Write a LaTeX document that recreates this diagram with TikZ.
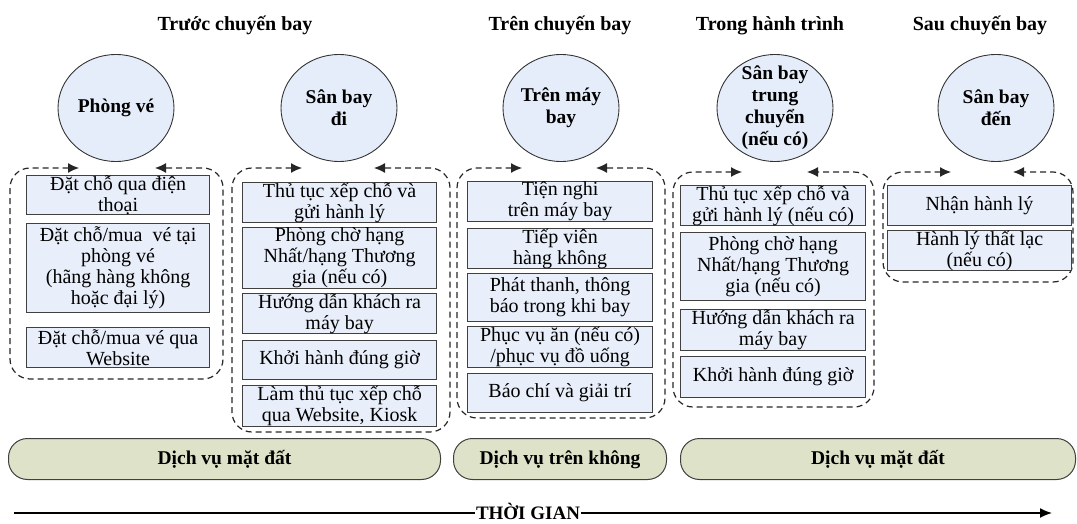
\documentclass[tikz,border=0pt]{standalone}
\usepackage{fontspec}
\setmainfont{Liberation Serif}
\usetikzlibrary{shapes.geometric,arrows.meta}
\definecolor{boxblue}{RGB}{233,239,250}
\definecolor{circblue}{RGB}{230,237,250}
\definecolor{pillgreen}{RGB}{222,226,200}
\tikzset{
  stage/.style={anchor=base, font=\bfseries\fontsize{20}{22}\selectfont},
  place/.style={ellipse, draw=black!80, line width=0.9pt, fill=circblue,
    minimum width=116pt, minimum height=107pt, inner sep=-12pt, align=center,
    font=\bfseries\fontsize{19.5}{22}\selectfont},
  sbox/.style 2 args={draw=black!75, line width=1.2pt, fill=boxblue,
    minimum width=#1, minimum height=#2, inner sep=0pt, anchor=north west,
    align=center, font=\fontsize{20}{21}\selectfont},
  grouprim/.style={draw=black!85, line width=1.2pt, dash pattern=on 6pt off 4pt,
    rounded corners=20pt, {Latex[length=11pt,width=10pt]}-{Latex[length=11pt,width=10pt]}},
  pill/.style={draw=black!75, line width=1pt, fill=pillgreen, rounded corners=19pt,
    minimum height=41pt, inner sep=0pt, text height=14pt, text depth=4pt, anchor=north west,
    font=\bfseries\fontsize{19.5}{21}\selectfont},
}
\begin{document}
\begin{tikzpicture}[x=1pt, y=-1pt]
    \useasboundingbox (0,0) rectangle (1077,524);

    \def\ytitle{31}
    \def\yplace{108}

    \node[stage] (before) at (235,\ytitle) {Trước chuyến bay};
    \node[stage] (during) at (560,\ytitle) {Trên chuyến bay};
    \node[stage] (transit) at (770,\ytitle) {Trong hành trình};
    \node[stage] (after) at (980,\ytitle) {Sau chuyến bay};

    \node[place] (office) at (116,\yplace) {Phòng vé};
    \node[place] (depart) at (339,\yplace) {Sân bay\\đi};
    \node[place] (plane) at (561,\yplace) {Trên máy\\bay};
    \node[place] (hub) at (775,\yplace) {Sân bay\\trung\\chuyển\\(nếu có)};
    \node[place] (arrive) at (996,\yplace) {Sân bay\\đến};

    \draw[grouprim] (79,168) -- (10,168) -- (10,379) -- (223,379) -- (223,168) -- (155,168);
    \node[sbox={183pt}{39pt}] (office1) at (26,175) {Đặt chỗ qua điện\\thoại};
    \node[sbox={183pt}{89pt}] (office2) at (26,223) {Đặt chỗ/mua\ \ vé tại\\phòng vé\\(hãng hàng không\\hoặc đại lý)};
    \node[sbox={183pt}{40pt}] (office3) at (26,327) {Đặt chỗ/mua vé qua\\Website};

    \draw[grouprim] (302,168) -- (232,168) -- (232,432) -- (450,432) -- (450,168) -- (374,168);
    \node[sbox={194pt}{39pt}] (depart1) at (242,182) {Thủ tục xếp chỗ và\\gửi hành lý};
    \node[sbox={194pt}{61pt}] (depart2) at (242,227) {Phòng chờ hạng\\Nhất/hạng Thương\\gia (nếu có)};
    \node[sbox={194pt}{40pt}] (depart3) at (242,293) {Hướng dẫn khách ra\\máy bay};
    \node[sbox={194pt}{39pt}] (depart4) at (242,340) {Khởi hành đúng giờ};
    \node[sbox={194pt}{41pt}] (depart5) at (242,385) {Làm thủ tục xếp chỗ\\qua Website, Kiosk};

    \draw[grouprim] (522,168) -- (457,168) -- (457,418) -- (665,418) -- (665,168) -- (596,168);
    \node[sbox={185pt}{40pt}] (plane1) at (467,181) {Tiện nghi\\trên máy bay};
    \node[sbox={185pt}{39pt}] (plane2) at (467,228) {Tiếp viên\\hàng không};
    \node[sbox={185pt}{48pt}] (plane3) at (467,273) {Phát thanh, thông\\báo trong khi bay};
    \node[sbox={185pt}{41pt}] (plane4) at (467,326) {Phục vụ ăn (nếu có)\\/phục vụ đồ uống};
    \node[sbox={185pt}{39pt}] (plane5) at (467,373) {Báo chí và giải trí};

    \draw[grouprim] (742,172) -- (673,172) -- (673,407) -- (874,407) -- (874,172) -- (807,172);
    \node[sbox={185pt}{40pt}] (hub1) at (680,185) {Thủ tục xếp chỗ và\\gửi hành lý (nếu có)};
    \node[sbox={185pt}{68pt}] (hub2) at (680,232) {Phòng chờ hạng\\Nhất/hạng Thương\\gia (nếu có)};
    \node[sbox={185pt}{41pt}] (hub3) at (680,309) {Hướng dẫn khách ra\\máy bay};
    \node[sbox={185pt}{41pt}] (hub4) at (680,356) {Khởi hành đúng giờ};

    \draw[grouprim] (951,172) -- (883,172) -- (883,282) -- (1073,282) -- (1073,172) -- (1013,172);
    \node[sbox={184pt}{40pt}] (arrive1) at (887,185) {Nhận hành lý};
    \node[sbox={184pt}{39pt}] (arrive2) at (887,230) {Hành lý thất lạc\\(nếu có)};

    \node[pill, minimum width=432pt] (ground1) at (8,438) {Dịch vụ mặt đất};
    \node[pill, minimum width=213pt] (air) at (453,438) {Dịch vụ trên không};
    \node[pill, minimum width=395pt] (ground2) at (680,438) {Dịch vụ mặt đất};

    \node[font=\bfseries\fontsize{19}{21}\selectfont, inner sep=1pt] (time) at (528,511) {THỜI GIAN};
    \coordinate (tstart) at (14,513);
    \coordinate (tend) at (1052,513);
    \draw[line width=1.5pt] (tstart) -- (tstart -| time.west);
    \draw[line width=1.5pt, -{Latex[length=12pt,width=10pt]}] (tend -| time.east) -- (tend);
\end{tikzpicture}
\end{document}
